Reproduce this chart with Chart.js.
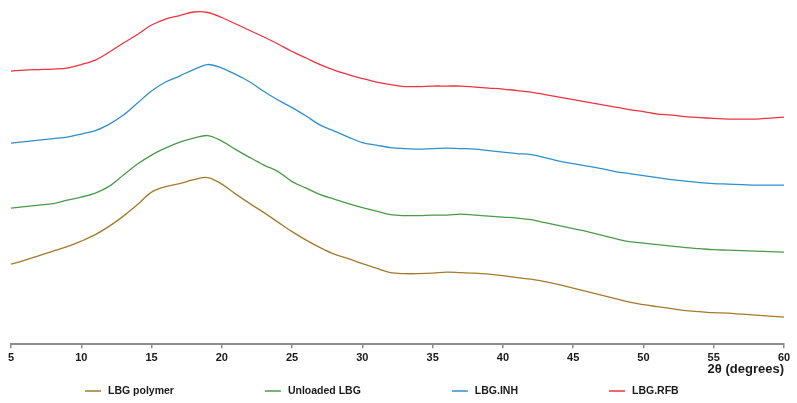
<!DOCTYPE html>
<html>
<head>
<meta charset="utf-8">
<script src="https://cdn.jsdelivr.net/npm/chart.js@4.4.1/dist/chart.umd.min.js"></script>
<style>
    html, body { margin: 0; padding: 0; background: #fff; }
</style>
</head>
<body>
<canvas id="chartXrd" width="797" height="403"></canvas>
<script>
// 2theta positions (degrees)
const twoTheta = [5, 6, 7, 8, 9, 10, 11, 12, 13, 14, 15, 16, 17, 18, 19, 20,
    21, 22, 23, 24, 25, 26, 27, 28, 29, 30, 31, 32, 33, 34, 35, 36, 37, 38, 39, 40,
    41, 42, 43, 44, 45, 46, 47, 48, 49, 50, 51, 52, 53, 54, 55, 56, 57, 58, 59, 60];

// intensities (a.u., stacked with offsets as in the figure)
const lbgPolymer = [80, 84, 88.5, 93, 97.5, 103, 109.5, 118, 128, 139.5, 152, 157.5, 160.5, 164.5, 166.5, 160,
    150, 140.5, 131.5, 122, 112.5, 104, 96.5, 90, 85.5, 80.5, 76, 71.5, 70.5, 70.5, 71, 72, 71.5, 71, 70, 68.5,
    66.5, 65, 62.5, 59.5, 56, 52.5, 49, 45.5, 42, 39.5, 37.5, 35.5, 33.5, 32.5, 31.5, 31, 30, 29, 28, 27];

const unloadedLbg = [136, 137.5, 139, 140.5, 144, 147, 151, 158, 169, 180, 189, 196, 202, 206, 208.5, 203,
    194.5, 186.5, 179, 172.5, 162.5, 156, 149.5, 145, 140.5, 136.5, 133, 129.5, 128.5, 128.5, 129, 129, 130, 129, 128, 127,
    126, 124.5, 121.5, 118.5, 115.5, 112.5, 109, 105.5, 102.5, 101, 99.5, 98, 96.5, 95.5, 94.5, 94, 93.5, 93, 92.5, 92];

const lbgInh = [201, 202.5, 204, 205.5, 207, 210, 213.5, 220, 229, 241, 253, 262, 268, 274.5, 279.5, 276,
    269.5, 262, 252.5, 244, 236.5, 228, 219, 213, 207, 201.5, 199, 196.5, 195.5, 195, 195.5, 196, 195.5, 195, 193.5, 192,
    190.5, 189.5, 186.5, 183, 180.5, 178, 175.5, 172.5, 170.5, 168.5, 166.5, 164.5, 163, 161.5, 160.5, 160, 159.5, 159, 159, 159];

const lbgRfb = [273, 274, 274.5, 275, 276, 279.5, 284, 292, 301, 309.5, 319, 325, 328.5, 332, 331.5, 326.5,
    320, 313.5, 307, 300, 292.5, 286, 279.5, 274, 269.5, 265.5, 262, 259.5, 257.5, 257.5, 258, 258, 258, 257, 256, 255,
    253.5, 252, 249.5, 247, 244.5, 242, 239.5, 237, 234.5, 232.5, 230, 229, 227.5, 226.5, 225.7, 225, 225, 225, 226, 227];

const seriesNames = ['LBG polymer', 'Unloaded LBG', 'LBG.INH', 'LBG.RFB'];
const seriesColors = ['#a27b2c', '#4b9a4b', '#2f8fcc', '#ee3340'];
const seriesData = [lbgPolymer, unloadedLbg, lbgInh, lbgRfb];

const FONT = '"Liberation Sans", Arial, sans-serif';

// legend drawn as a spaced row under the axis
const bottomLegend = {
    id: 'bottomLegend',
    afterDraw(chart) {
        const ctx = chart.ctx;
        const y = 391;
        let x = 85;
        ctx.save();
        ctx.font = 'bold 10.5px ' + FONT;
        ctx.textBaseline = 'middle';
        chart.data.datasets.forEach(ds => {
            ctx.strokeStyle = ds.borderColor;
            ctx.lineWidth = 1.5;
            ctx.beginPath();
            ctx.moveTo(x, y);
            ctx.lineTo(x + 16, y);
            ctx.stroke();
            x += 23;
            ctx.fillStyle = '#1a1a1a';
            ctx.fillText(ds.label, x, y);
            x += ctx.measureText(ds.label).width + 91;
        });
        ctx.restore();
    }
};

const ctx = document.getElementById('chartXrd').getContext('2d');

new Chart(ctx, {
    type: 'line',
    data: {
        datasets: seriesData.map((vals, i) => ({
            label: seriesNames[i],
            data: twoTheta.map((t, j) => ({ x: t, y: vals[j] })),
            borderColor: seriesColors[i],
            borderWidth: 1.3,
            pointRadius: 0,
            tension: 0.35,
            fill: false,
            clip: false,
        })),
    },
    options: {
        responsive: false,
        animation: false,
        layout: { padding: { top: 0, left: 11, right: 13, bottom: 26 } },
        plugins: {
            legend: { display: false },
            tooltip: { enabled: false },
        },
        scales: {
            x: {
                type: 'linear',
                min: 5,
                max: 60,
                ticks: {
                    stepSize: 5,
                    color: '#1a1a1a',
                    padding: 3,
                    maxRotation: 0,
                    font: { family: FONT, size: 11, weight: 'bold' },
                },
                grid: {
                    display: true,
                    drawOnChartArea: false,
                    drawTicks: true,
                    tickLength: 4,
                    color: '#8c8c8c',
                    lineWidth: 1.5,
                },
                border: { display: true, color: '#8c8c8c', width: 2 },
                title: {
                    display: true,
                    text: '2θ (degrees)',
                    align: 'end',
                    color: '#1a1a1a',
                    padding: { top: -6, bottom: 0 },
                    font: { family: FONT, size: 13, weight: 'bold' },
                },
            },
            y: {
                display: false,
                min: 0,
                max: 344,
            },
        },
    },
    plugins: [bottomLegend],
});
</script>
</body>
</html>
